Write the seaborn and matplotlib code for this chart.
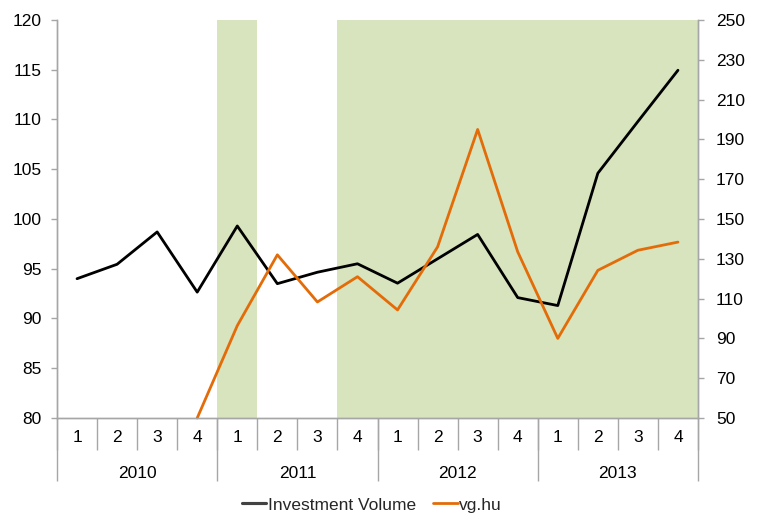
import numpy as np
import pandas as pd
import matplotlib
matplotlib.use("Agg")
import matplotlib.pyplot as plt
import seaborn as sns

quarters = ["1", "2", "3", "4"] * 4
years = ["2010", "2011", "2012", "2013"]
investment_volume = [94.0, 95.45, 98.7, 92.65, 99.3, 93.5, 94.65, 95.5,
                     93.55, 96.0, 98.45, 92.1, 91.3, 104.6, 109.8, 114.95]
vg_hu = [np.nan, np.nan, np.nan, 50.0, 96.4, 132.0, 108.3, 121.0,
         104.3, 136.0, 195.0, 133.5, 90.0, 124.2, 134.3, 138.4]
shaded = [0, 0, 0, 0, 1, 0, 0, 1, 1, 1, 1, 1, 1, 1, 1, 1]

sns.set_theme(style="white")
plt.rcParams["font.family"] = ["Liberation Sans", "DejaVu Sans"]

GRAY = "#a6a6a6"
GREEN = "#d7e4bd"
ORANGE = "#e36c09"
FS = 12.5

fig = plt.figure(figsize=(7.58, 5.14), dpi=100)
ax = fig.add_axes([57/758, 1-418/514, (698-57)/758, (418-20)/514])

idx = np.arange(len(quarters))
df = pd.DataFrame({"pos": idx, "iv": investment_volume, "vg": vg_hu,
                   "shade": np.array(shaded) * 40.0})

# shading bars (full category width) from 80 to 120
sns.barplot(data=df, x="pos", y="shade", ax=ax, color=GREEN, width=1.0,
            saturation=1, bottom=80, linewidth=0, native_scale=True)
sns.lineplot(x=idx, y=investment_volume, ax=ax, color="black", lw=2.0,
             label="Investment Volume", legend=False)

ax2 = ax.twinx()
vg_df = df.dropna(subset=["vg"])
sns.lineplot(x=vg_df["pos"].values, y=vg_df["vg"].values, ax=ax2, color=ORANGE,
             lw=2.0, label="vg.hu", legend=False, clip_on=False)

ax.set_xlim(-0.5, 15.5)
ax.set_ylim(80, 120)
ax2.set_ylim(50, 250)
ax.set_yticks(np.arange(80, 121, 5))
ax2.set_yticks(np.arange(50, 251, 20))
ax.set_xlabel("")
ax.set_ylabel("")
ax2.set_ylabel("")

for a in (ax, ax2):
    for s in a.spines.values():
        s.set_color(GRAY)
        s.set_linewidth(1.0)
    a.spines["top"].set_visible(False)
    a.grid(False)

ax.tick_params(axis="y", which="both", left=True, length=4, width=1, color=GRAY,
               labelsize=FS, labelcolor="black", pad=7, direction="out")
ax2.tick_params(axis="y", right=True, length=4, width=1, color=GRAY,
                labelsize=FS, labelcolor="black", pad=9, direction="out")

# quarter labels + separators
ax.set_xticks(idx)
ax.set_xticklabels(quarters)
ax.set_xticks(np.arange(-0.5, 16, 1), minor=True)
ax.tick_params(axis="x", which="major", length=0, labelsize=FS, pad=8.5,
               labelcolor="black")
ax.tick_params(axis="x", which="minor", bottom=True, length=23, width=1,
               color=GRAY, direction="out")

# year labels + separators
sec = ax.secondary_xaxis("bottom")
sec.set_xticks([1.5, 5.5, 9.5, 13.5])
sec.set_xticklabels(years)
sec.set_xticks([-0.5, 3.5, 7.5, 11.5, 15.5], minor=True)
sec.tick_params(axis="x", which="major", length=0, labelsize=FS, pad=34.5,
                labelcolor="black")
sec.tick_params(axis="x", which="minor", bottom=True, length=45, width=1,
                color=GRAY, direction="out")
sec.spines["bottom"].set_visible(False)

handles = ax.get_lines()[:1] + ax2.get_lines()[:1]
fig.legend(handles, ["Investment Volume", "vg.hu"], loc="center",
           bbox_to_anchor=(372/758, 1-505/514), ncol=2, frameon=False,
           fontsize=FS, handlelength=1.4, handletextpad=0.1, columnspacing=1.0)

fig.savefig("out.png", dpi=100)
